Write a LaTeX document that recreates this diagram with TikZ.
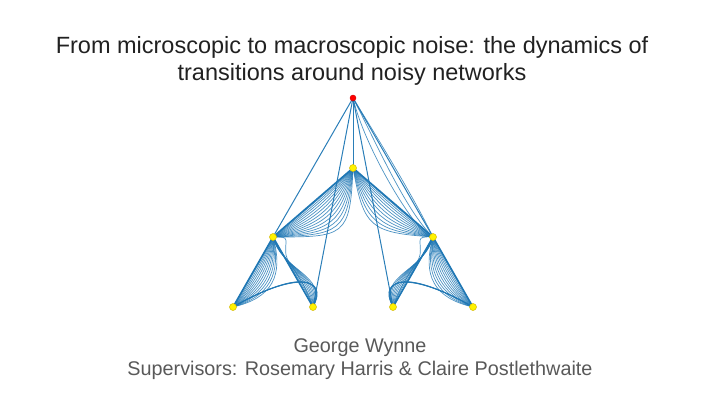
\documentclass[tikz,border=0pt]{standalone}
\usepackage{fontspec}
\setmainfont{Liberation Sans}
\usetikzlibrary{calc}
\definecolor{edgeblue}{HTML}{1F77B4}
\definecolor{titlegray}{HTML}{212121}
\definecolor{subgray}{HTML}{595959}
\definecolor{nodeedge}{HTML}{D4B800}
\tikzset{
  thinedge/.style={draw=edgeblue, line width=0.7pt, opacity=0.8},
  thickedge/.style={draw=edgeblue, line width=1.6pt},
  midedge/.style={draw=edgeblue, line width=1pt, opacity=0.95},
  vertex/.style={circle, fill=yellow, draw=nodeedge, line width=0.5pt, inner sep=0pt, minimum size=7pt},
  rootvertex/.style={circle, fill=red, draw=red!80!black, line width=0.4pt, inner sep=0pt, minimum size=6pt},
  titletext/.style={font=\fontsize{23.5}{27}\selectfont, text=titlegray, anchor=base, inner sep=0pt},
  subtext/.style={font=\fontsize{19.8}{24}\selectfont, text=subgray, anchor=base, inner sep=0pt}
}
\begin{document}
\begin{tikzpicture}[x=1pt,y=-1pt]
\useasboundingbox (0,0) rectangle (720,405);
% coordinates of vertices
\coordinate (T) at (353,98);
\coordinate (M) at (353,168);
\coordinate (L) at (273,237);
\coordinate (R) at (433,237);
\coordinate (B1) at (233,307);
\coordinate (B2) at (313,307);
\coordinate (B3) at (393,307);
\coordinate (B4) at (473,307);

% M -> L bent family
\foreach \i in {1,...,14}{
  \pgfmathsetmacro\t{(\i/14)^1.4}
  \draw[thinedge] (M) .. controls ({326+24*\t},{191+46*\t}) and ({300+45*\t},{214+23*\t}) .. (L);
}
% M -> R bent family
\foreach \i in {1,...,11}{
  \pgfmathsetmacro\t{0.8*(\i/11)^1.4}
  \draw[thinedge] (M) .. controls ({380-20*\t},{191+46*\t}) and ({406-45*\t},{214+23*\t}) .. (R);
}
% L -> B1 family
\foreach \i in {1,...,12}{
  \pgfmathsetmacro\t{(\i/12)^1.3}
  \draw[thinedge] (L) .. controls ({260+24*\t},{260+16*\t}) and ({246+26*\t},{284+14*\t}) .. (B1);
}
% R -> B4 family
\foreach \i in {1,...,12}{
  \pgfmathsetmacro\t{(\i/12)^1.3}
  \draw[thinedge] (R) .. controls ({446-24*\t},{260+16*\t}) and ({460-26*\t},{284+14*\t}) .. (B4);
}
% L -> B2 family
\foreach \i in {1,...,8}{
  \pgfmathsetmacro\t{\i/8}
  \draw[thinedge] (L) .. controls ({286-4*\t},{260+12*\t}) and ({300+28*\t},{284-10*\t}) .. (B2);
}
% R -> B3 family
\foreach \i in {1,...,8}{
  \pgfmathsetmacro\t{\i/8}
  \draw[thinedge] (R) .. controls ({420+4*\t},{260+12*\t}) and ({406-28*\t},{284-10*\t}) .. (B3);
}
% loops into B2 and B3
\foreach \i in {1,...,5}{
  \pgfmathsetmacro\t{\i/5}
  \draw[thinedge] (B1) .. controls ({290+4*\t},{274-2*\t}) and ({326+4*\t},{272+4*\t}) .. (B2);
  \draw[thinedge] (B4) .. controls ({416-4*\t},{274-2*\t}) and ({380-4*\t},{272+4*\t}) .. (B3);
}
% L-shaped hooks
\draw[thinedge] (L) .. controls (292,236) and (284,240) .. (286,255) .. controls (288,265) and (300,272) .. (B2);
\draw[thinedge] (R) .. controls (414,236) and (422,240) .. (420,255) .. controls (418,265) and (406,272) .. (B3);

% top edges
\draw[midedge] (T) -- (L);
\draw[midedge] (T) -- (M);
\draw[midedge] (T) -- (B2);
\draw[midedge] (T) -- (B3);
\draw[midedge] (T) -- (R);
\draw[thinedge] (T) .. controls (385,150) and (415,200) .. (R);
\draw[thinedge] (T) .. controls (375,140) and (405,210) .. (R);
\draw[thinedge] (T) .. controls (365,150) and (420,240) .. (R);

% straight thick edges
\draw[thickedge] (M) -- (L);
\draw[thickedge] (M) -- (R);
\draw[thickedge] (L) -- (B1);
\draw[thickedge] (L) -- (B2);
\draw[thickedge] (R) -- (B3);
\draw[thickedge] (R) -- (B4);

% vertices
\node[rootvertex] (t) at (T) {};
\node[vertex] (m) at (M) {};
\node[vertex] (l) at (L) {};
\node[vertex] (r) at (R) {};
\node[vertex] (b1) at (B1) {};
\node[vertex] (b2) at (B2) {};
\node[vertex] (b3) at (B3) {};
\node[vertex] (b4) at (B4) {};

% text
\node[titletext] (title1) at (352,53) {From microscopic to macroscopic noise: the dynamics of};
\node[titletext] (title2) at (352,80) {transitions around noisy networks};
\node[subtext] (author) at (360,352) {George Wynne};
\node[subtext] (sup) at (360,375) {Supervisors: Rosemary Harris \& Claire Postlethwaite};
\end{tikzpicture}
\end{document}
